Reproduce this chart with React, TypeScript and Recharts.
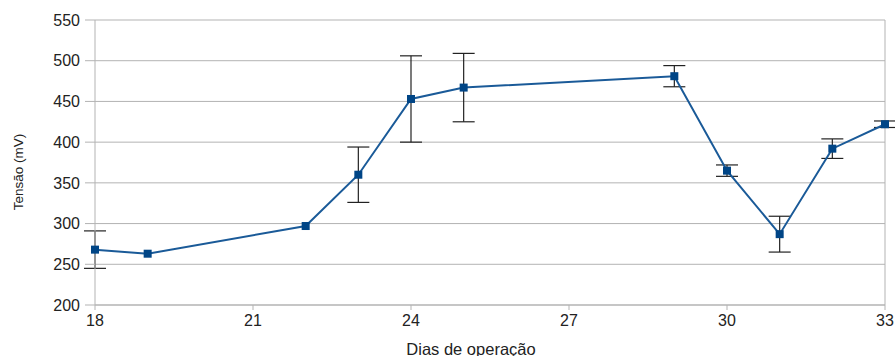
import React from 'react';
import {
  LineChart,
  Line,
  XAxis,
  YAxis,
  CartesianGrid,
  ErrorBar,
  ReferenceLine,
} from 'recharts';

// Dias de operação vs tensão (mV), com desvio
const days = [18, 19, 22, 23, 24, 25, 29, 30, 31, 32, 33];
const voltage = [268, 263, 297, 360, 453, 467, 481, 365, 287, 392, 422];
const deviation = [23, 0, 0, 34, 53, 42, 13, 7, 22, 12, 4];

const xTicks = [18, 21, 24, 27, 30, 33];
const yTicks = [200, 250, 300, 350, 400, 450, 500, 550];

const data = days.map((d, i) => ({ day: d, value: voltage[i], err: deviation[i] }));

const SquareDot = (props: { cx?: number; cy?: number }) => {
  const { cx, cy } = props;
  if (cx === undefined || cy === undefined) return null;
  return <rect x={cx - 4} y={cy - 4} width={8} height={8} fill="#004586" />;
};

const font = 'Liberation Sans, Arial, sans-serif';
const axisColor = '#b3b3b3';
const tickStyle = { fill: '#222', fontSize: 16, fontFamily: font };

export default function App() {
  return (
    <div style={{ position: 'absolute', left: 0, top: 0, width: 895, height: 356, fontFamily: font }}>
      <LineChart
        width={895}
        height={356}
        data={data}
        margin={{ top: 20, right: 10, left: 35, bottom: 21 }}
      >
        <CartesianGrid vertical={false} stroke={axisColor} />
        <XAxis
          dataKey="day"
          type="number"
          domain={[18, 33]}
          ticks={xTicks}
          height={30}
          stroke={axisColor}
          tickSize={5}
          tickMargin={5}
          tick={tickStyle}
          tickLine={{ stroke: axisColor }}
        />
        <YAxis
          type="number"
          domain={[200, 550]}
          ticks={yTicks}
          width={60}
          stroke={axisColor}
          tickSize={10}
          tickMargin={5}
          tick={tickStyle}
          tickLine={{ stroke: axisColor }}
        />
        <ReferenceLine x={33} stroke={axisColor} />
        <Line
          type="linear"
          dataKey="value"
          stroke="#1a5a98"
          strokeWidth={2}
          dot={<SquareDot />}
          activeDot={false}
          isAnimationActive={false}
        >
          <ErrorBar dataKey="err" width={11} stroke="#222" strokeWidth={1.2} direction="y" />
        </Line>
      </LineChart>
      <div
        style={{
          position: 'absolute',
          left: 471,
          top: 341,
          transform: 'translateX(-50%)',
          fontSize: 16.5,
          lineHeight: 1,
          color: '#222',
          whiteSpace: 'nowrap',
        }}
      >
        Dias de operação
      </div>
      <div
        style={{
          position: 'absolute',
          left: 19,
          top: 172,
          transform: 'translate(-50%, -50%) rotate(-90deg)',
          fontSize: 13.5,
          lineHeight: 1,
          color: '#222',
          whiteSpace: 'nowrap',
        }}
      >
        Tensão (mV)
      </div>
    </div>
  );
}
